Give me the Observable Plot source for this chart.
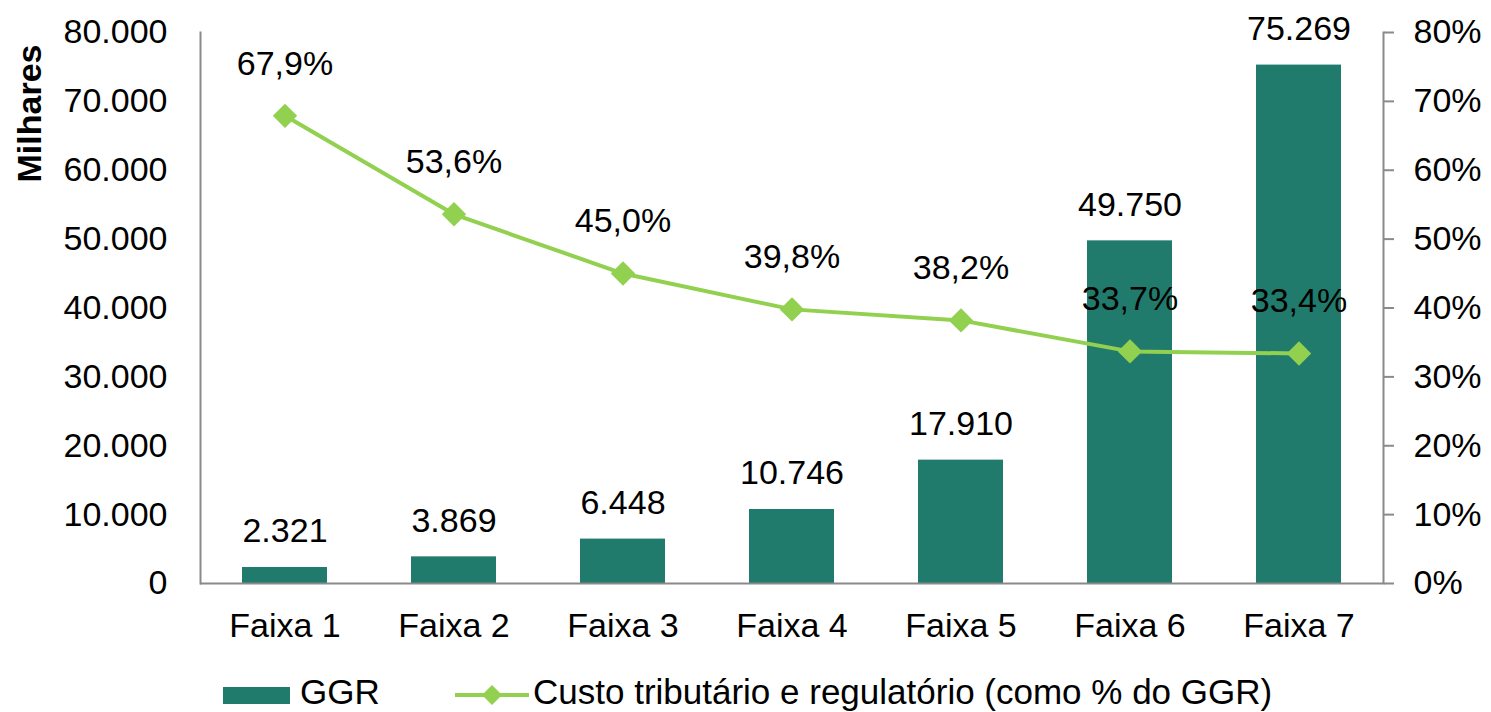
<!DOCTYPE html>
<html>
<head>
<meta charset="utf-8">
<script src="https://cdn.jsdelivr.net/npm/d3@7"></script>
<script src="https://cdn.jsdelivr.net/npm/@observablehq/plot@0.6"></script>
<style>
  body { margin: 0; background: white; font-family: "Liberation Sans", Arial, sans-serif; overflow: hidden; }
  #legend { position: relative; width: 1491px; height: 62px; font-size: 35px; color: #000; }
  #legend .item { position: absolute; top: 25px; height: 34px; line-height: 34px; }
</style>
</head>
<body>
<div id="chart"></div>
<div id="legend">
  <div class="item" style="left:223px;"><div style="margin-top:12px;width:67px;height:17px;background:#217b6c;"></div></div>
  <div class="item" style="left:300px;">GGR</div>
  <div class="item" style="left:455px;"><svg width="74" height="34"><line x1="0" y1="20" x2="74" y2="20" stroke="#92d050" stroke-width="4"/><path d="M37,10 L47,20 L37,30 L27,20 Z" fill="#92d050"/></svg></div>
  <div class="item" style="left:533px;">Custo tributário e regulatório (como % do GGR)</div>
</div>
<script>
const categories = ["Faixa 1", "Faixa 2", "Faixa 3", "Faixa 4", "Faixa 5", "Faixa 6", "Faixa 7"];
const ggr = [2321, 3869, 6448, 10746, 17910, 49750, 75269];
const custo = [67.9, 53.6, 45.0, 39.8, 38.2, 33.7, 33.4];
const leftTicks = [0, 10000, 20000, 30000, 40000, 50000, 60000, 70000, 80000];
const rightTicks = [0, 10, 20, 30, 40, 50, 60, 70, 80];

const locale = d3.formatLocale({decimal: ",", thousands: ".", grouping: [3], currency: ["", ""]});
const fmtInt = locale.format(",d");
const fmtPct = locale.format(".1f");

const rows = categories.map((c, i) => ({cat: c, ggr: ggr[i], pct: custo[i]}));
const axisColor = "#8a8a8a";

const chart = Plot.plot({
  width: 1491,
  height: 650,
  marginLeft: 200,
  marginRight: 108,
  marginTop: 32,
  marginBottom: 67,
  style: {fontFamily: "'Liberation Sans', Arial, sans-serif", fontSize: "34px", color: "#000", background: "white", overflow: "visible"},
  x: {domain: categories, paddingInner: 0.5, paddingOuter: 0.25, label: null},
  y: {domain: [0, 80000], label: null},
  marks: [
    Plot.barY(rows, {x: "cat", y: "ggr", fill: "#217b6c"}),
    Plot.axisX({tickSize: 0, tickPadding: 29, label: null, fill: "#000"}),
    Plot.axisY(leftTicks, {anchor: "left", tickSize: 0, tickPadding: 33, tickFormat: fmtInt, label: null, fill: "#000"}),
    Plot.axisY(rightTicks.map(t => t * 1000), {anchor: "right", tickSize: 10, tickPadding: 20, stroke: axisColor, strokeWidth: 2, tickFormat: d => (d / 1000) + "%", label: null, fill: "#000"}),
    Plot.frame({anchor: "left", stroke: axisColor, strokeWidth: 2}),
    Plot.frame({anchor: "right", stroke: axisColor, strokeWidth: 2}),
    Plot.ruleY([0], {stroke: axisColor, strokeWidth: 2}),
    Plot.line(rows, {x: "cat", y: d => d.pct * 1000, stroke: "#92d050", strokeWidth: 4}),
    Plot.dot(rows, {x: "cat", y: d => d.pct * 1000, symbol: "diamond2", r: 11, fill: "#92d050", stroke: "none"}),
    Plot.text(rows, {x: "cat", y: "ggr", text: d => fmtInt(d.ggr), dy: -36, fill: "#000"}),
    Plot.text(rows, {x: "cat", y: d => d.pct * 1000, text: d => fmtPct(d.pct) + "%", dy: -52, fill: "#000"}),
    Plot.text(["Milhares"], {frameAnchor: "top-left", textAnchor: "middle", lineAnchor: "middle", text: d => d, rotate: -90, dx: -170, dy: 81, fontWeight: "bold", fill: "#000"})
  ]
});
document.getElementById("chart").appendChild(chart);
</script>
</body>
</html>
